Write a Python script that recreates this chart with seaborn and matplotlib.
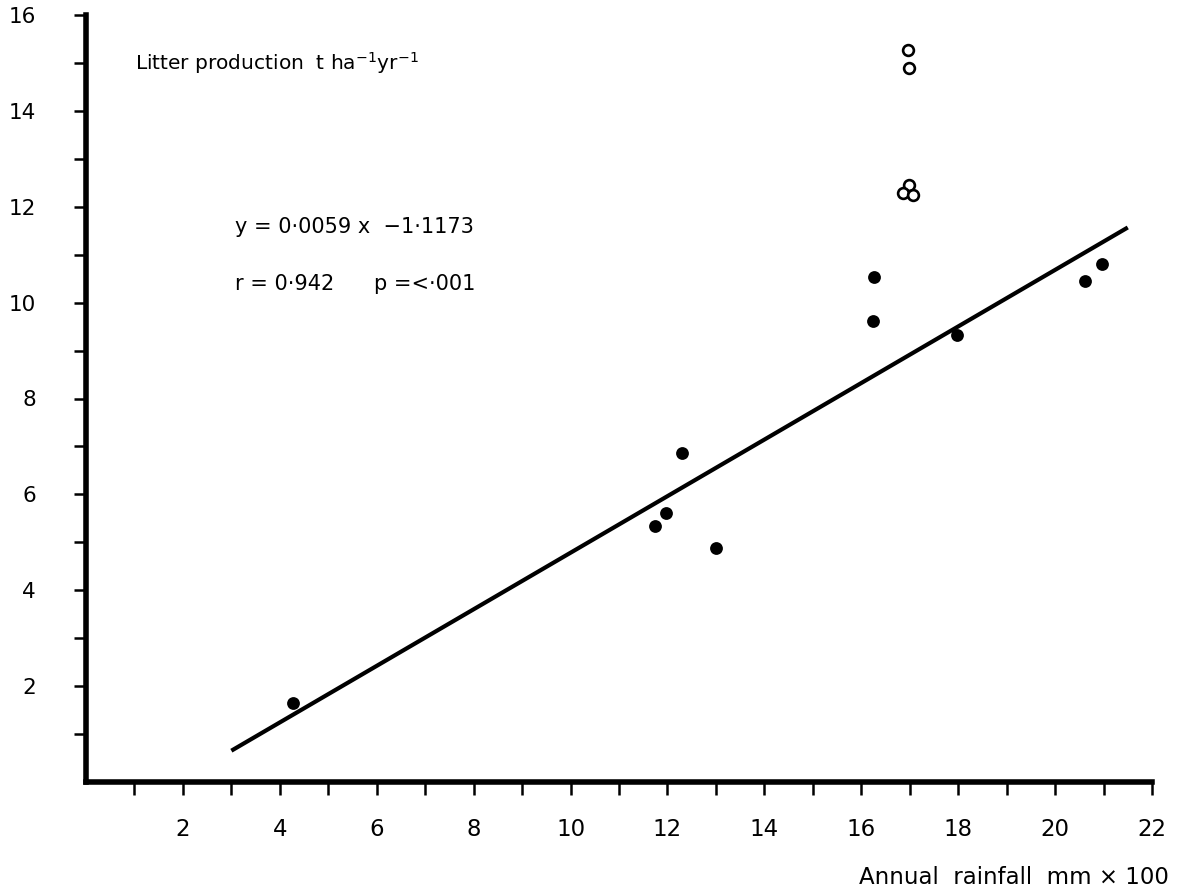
import numpy as np
import pandas as pd
import matplotlib
matplotlib.use("Agg")
import matplotlib.pyplot as plt
import seaborn as sns

# ---- data (annual rainfall in mm x 100, litter production t/ha/yr) ----
rain_filled = [4.27, 11.75, 11.98, 12.30, 13.00, 16.26, 16.25, 17.97, 20.61, 20.96]
litter_filled = [1.64, 5.33, 5.62, 6.86, 4.89, 10.53, 9.62, 9.32, 10.45, 10.81]
rain_open = [16.96, 16.98, 16.98, 16.87, 17.06]
litter_open = [15.28, 14.89, 12.45, 12.28, 12.25]
slope_per_mm = 0.0059
intercept = -1.1173
line_range = [3.0, 21.5]          # x extent of fitted line (mm x 100)
x_ticks = list(range(0, 23))
x_labels = [str(v) if (v % 2 == 0 and v > 0) else "" for v in x_ticks]
y_ticks = list(range(0, 17))
y_labels = [str(v) if (v % 2 == 0 and v > 0) else "" for v in y_ticks]

sns.set_theme(style="ticks")
plt.rcParams["font.family"] = ["DejaVu Sans"]
plt.rcParams["mathtext.default"] = "regular"
plt.rcParams["text.color"] = "black"
plt.rcParams["xtick.labelcolor"] = "black"
plt.rcParams["ytick.labelcolor"] = "black"

W, H = 1181, 890
fig = plt.figure(figsize=(W / 100, H / 100), dpi=100)
fig.patch.set_facecolor("white")
ax = fig.add_axes([86 / W, 108 / H, (1152 - 86) / W, (782 - 15) / H])
ax.set_facecolor("white")

df_f = pd.DataFrame({"rain": rain_filled, "litter": litter_filled})
df_o = pd.DataFrame({"rain": rain_open, "litter": litter_open})
lx = np.array(line_range)
df_l = pd.DataFrame({"rain": lx, "litter": slope_per_mm * 100 * lx + intercept})

sns.lineplot(data=df_l, x="rain", y="litter", ax=ax, color="black", lw=3.0,
             solid_capstyle="butt", zorder=2)
sns.scatterplot(data=df_f, x="rain", y="litter", ax=ax, color="black", s=85,
                edgecolor="black", linewidth=0, zorder=3)
sns.scatterplot(data=df_o, x="rain", y="litter", ax=ax, facecolor="white", s=60,
                edgecolor="black", linewidth=1.9, zorder=3)

ax.set_xlim(0, 22)
ax.set_ylim(0, 16)
ax.set_xticks(x_ticks)
ax.set_xticklabels(x_labels)
ax.set_yticks(y_ticks)
ax.set_yticklabels(y_labels)
ax.set_xlabel("")
ax.set_ylabel("")

for s in ["top", "right"]:
    ax.spines[s].set_visible(False)
for s in ["left", "bottom"]:
    ax.spines[s].set_linewidth(4.0)
    ax.spines[s].set_color("black")
ax.tick_params(axis="both", direction="out", length=9, width=1.8, color="black",
               labelcolor="black")
ax.tick_params(axis="x", pad=17, labelsize=16.5)
ax.tick_params(axis="y", pad=27, labelsize=15.5)
# hide ticks at 0
ax.xaxis.get_major_ticks()[0].tick1line.set_visible(False)
ax.yaxis.get_major_ticks()[0].tick1line.set_visible(False)

fig.text(135 / W, 1 - 70 / H, r"Litter production  t ha$^{-1}$yr$^{-1}$",
         fontsize=14.5, ha="left", va="baseline", color="black")
fig.text(235 / W, 1 - 233 / H, "y = 0·0059 x  \u22121·1173",
         fontsize=15, ha="left", va="baseline", color="black")
fig.text(235 / W, 1 - 290 / H, "r = 0·942      p =<·001",
         fontsize=15, ha="left", va="baseline", color="black")
fig.text(1169 / W, 1 - 884 / H, "Annual  rainfall  mm \u00d7 100",
         fontsize=16.5, ha="right", va="baseline", color="black")

fig.savefig("out.png", dpi=100, facecolor="white")
